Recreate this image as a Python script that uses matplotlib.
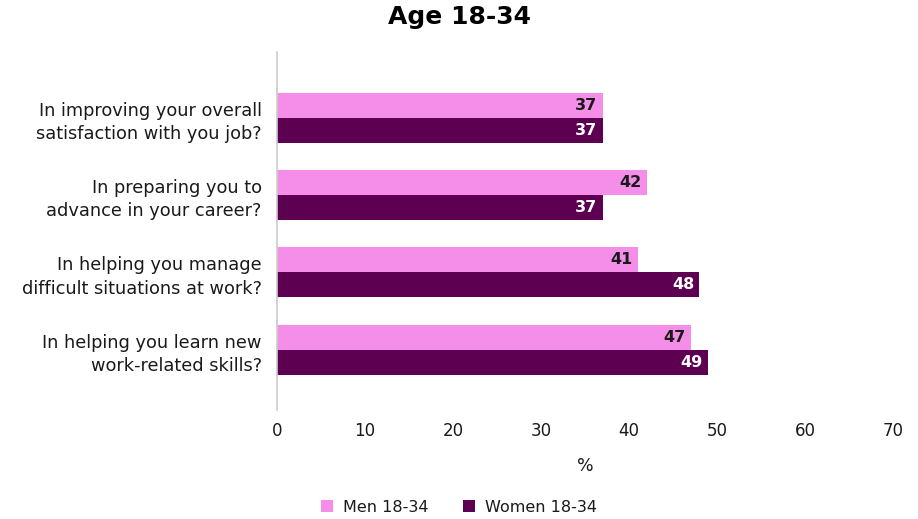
import matplotlib
matplotlib.use("Agg")
import matplotlib.pyplot as plt
import numpy as np

categories = [
    "In improving your overall\nsatisfaction with you job?",
    "In preparing you to\nadvance in your career?",
    "In helping you manage\ndifficult situations at work?",
    "In helping you learn new\nwork-related skills?",
]
men = [37, 42, 41, 47]
women = [37, 37, 48, 49]
series_names = ["Men 18-34", "Women 18-34"]
xticks = [0, 10, 20, 30, 40, 50, 60, 70]

pink = "#F58EE8"
purple = "#5E0052"
plt.rcParams['font.family'] = ['DejaVu Sans']

fig = plt.figure(figsize=(9.18, 5.19), dpi=100)
ax = fig.add_axes([277/918, 1-410/519, 616/918, (410-52)/519])

y = np.arange(len(categories))
h = 0.323
b1 = ax.barh(y - h/2, men, height=h, color=pink, label=series_names[0])
b2 = ax.barh(y + h/2, women, height=h, color=purple, label=series_names[1])

for yi, v in zip(y, men):
    ax.text(v - 0.6, yi - h/2, str(v), ha='right', va='center', fontsize=11.5,
            fontweight='bold', color='#1a1a1a')
for yi, v in zip(y, women):
    ax.text(v - 0.6, yi + h/2, str(v), ha='right', va='center', fontsize=11.5,
            fontweight='bold', color='white')

ax.set_xlim(0, 70)
ax.set_ylim(3.78, -0.85)
ax.set_yticks(y)
ax.set_yticklabels(categories, fontsize=12.8, color='#1a1a1a', linespacing=1.38)
ax.set_xticks(xticks)
ax.set_xticklabels([str(t) for t in xticks], fontsize=12, color='#1a1a1a')
ax.tick_params(axis='both', length=0)
ax.tick_params(axis='x', pad=9)
ax.tick_params(axis='y', pad=11)
for s in ['top', 'right', 'bottom']:
    ax.spines[s].set_visible(False)
ax.spines['left'].set_color('#cccccc')
ax.spines['left'].set_linewidth(1.2)

ax.set_xlabel('%', fontsize=12.5, color='#1a1a1a', labelpad=12)
fig.suptitle('Age 18-34', fontsize=18, fontweight='bold', y=0.99, x=0.5)

leg = fig.legend(handles=[b1, b2], labels=series_names, loc='center',
                 bbox_to_anchor=(0.5, 1-507/519), ncol=2, frameon=False,
                 fontsize=11.5, handlelength=0.75, handleheight=0.75,
                 columnspacing=2.2, handletextpad=0.6)
for t in leg.get_texts():
    t.set_color('#1a1a1a')

fig.savefig('out.png', dpi=100)
